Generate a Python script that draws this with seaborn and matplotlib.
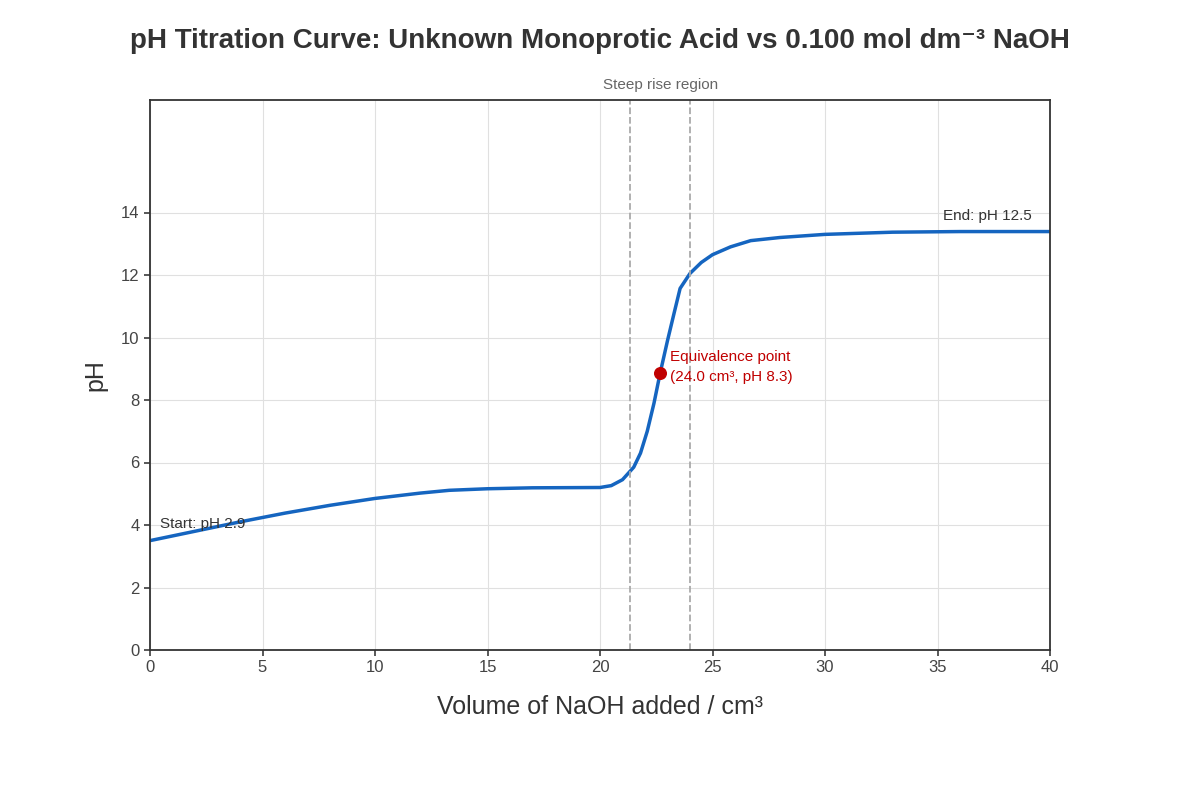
import matplotlib
matplotlib.use("Agg")
import matplotlib.pyplot as plt
import seaborn as sns
import pandas as pd

volume = [0, 2, 4, 6, 8, 10, 12, 13.3, 15, 17, 20, 20.5, 21, 21.5, 21.8, 22.1, 22.4, 22.67, 23.0, 23.3, 23.56, 24.0, 24.5, 25.0, 25.8, 26.7, 28, 30, 33, 36, 40]
ph = [3.5, 3.8, 4.1, 4.38, 4.63, 4.85, 5.02, 5.11, 5.16, 5.19, 5.2, 5.26, 5.45, 5.85, 6.3, 7.0, 7.9, 8.85, 9.9, 10.8, 11.57, 12.05, 12.4, 12.65, 12.9, 13.1, 13.2, 13.3, 13.37, 13.39, 13.39]
equiv_x, equiv_y = [22.67], [8.85]
region = [21.33, 24.0]

sns.set_theme(style="white")
plt.rcParams['font.family'] = ['Liberation Sans', 'DejaVu Sans']
fig, ax = plt.subplots(figsize=(12, 8), dpi=100)
fig.subplots_adjust(left=0.125, right=0.875, top=0.875, bottom=0.1875)

sns.lineplot(x=volume, y=ph, ax=ax, color="#1565c0", linewidth=2.5)
ax.scatter(equiv_x, equiv_y, color="#c00000", s=70, zorder=5)
for r in region:
    ax.axvline(r, color="#aaaaaa", linestyle="--", linewidth=1.3)

ax.set_xlim(0, 40)
ax.set_ylim(0, 17.6)
ax.set_xticks(range(0, 41, 5))
ax.set_yticks(range(0, 15, 2))
ax.grid(True, color="#e0e0e0", linewidth=0.8)
ax.tick_params(labelsize=12, colors="#444444", length=4, direction="out", left=True, bottom=True)
ax.tick_params(axis="both", labelcolor="#444444")
for s in ax.spines.values():
    s.set_color("#333333"); s.set_linewidth(1.3)

ax.set_xlabel("Volume of NaOH added / cm³", fontsize=18, color="#333333", labelpad=14)
ax.set_ylabel("pH", fontsize=18, color="#333333", labelpad=10)
fig.suptitle("pH Titration Curve: Unknown Monoprotic Acid vs 0.100 mol dm⁻³ NaOH",
             fontsize=20, fontweight="bold", color="#333333", y=0.965)

ax.text(0.45, 3.9, "Start: pH 2.9", fontsize=11, color="#333333")
ax.text(39.2, 13.75, "End: pH 12.5", fontsize=11, color="#333333", ha="right")
ax.text(23.1, 9.25, "Equivalence point", fontsize=11, color="#c00000")
ax.text(23.1, 8.6, "(24.0 cm³, pH 8.3)", fontsize=11, color="#c00000")
ax.text(22.67, 17.85, "Steep rise region", fontsize=11, color="#666666", ha="center", va="bottom")

fig.savefig("out.png")
